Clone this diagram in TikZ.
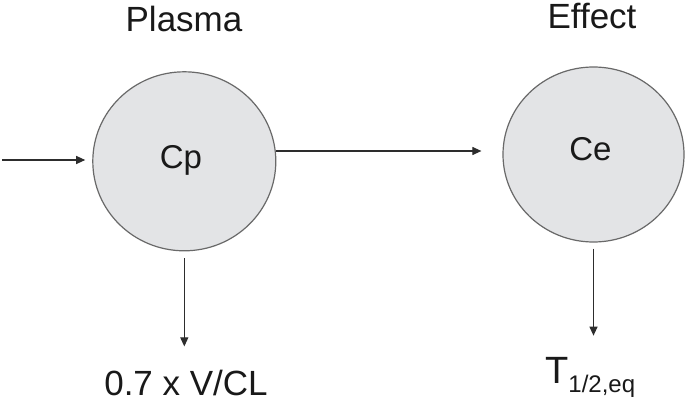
\documentclass[tikz,border=0pt]{standalone}
\usepackage{fontspec}
\setmainfont{Liberation Sans}
\usetikzlibrary{arrows.meta,shapes.geometric}
\definecolor{poolfill}{RGB}{227,228,230}
\definecolor{pooldraw}{RGB}{105,105,105}
\definecolor{ink}{RGB}{25,25,25}
\definecolor{arrowc}{RGB}{45,45,45}
\tikzset{
  pool/.style={ellipse, draw=pooldraw, fill=poolfill, line width=1.2pt, inner sep=0pt},
  txt/.style={inner sep=0pt, text=ink, anchor=base},
  arr/.style={draw=arrowc, line width=1.1pt, -{Triangle[length=9pt,width=8pt]}}
}
\begin{document}
\begin{tikzpicture}[x=1pt,y=-1pt]
\useasboundingbox[fill=white] (0,0) rectangle (688,404);
% pools
\node[pool, minimum width=183pt, minimum height=179pt] (cp) at (184.3,161.3) {};
\node[pool, minimum width=181pt, minimum height=175pt] (ce) at (593.5,154.5) {};
% texts
\node[txt, font=\fontsize{33}{33}\selectfont] (cptext) at (181,168) {Cp};
\node[txt, font=\fontsize{33}{33}\selectfont] (cetext) at (590.5,160) {Ce};
\node[txt, font=\fontsize{35}{35}\selectfont] (plasma) at (184,31.7) {Plasma};
\node[txt, font=\fontsize{35}{35}\selectfont] (effect) at (592,28.3) {Effect};
\node[txt, font=\fontsize{35}{35}\selectfont] (vcl) at (186,395) {0.7 x V/CL};
\node[txt, anchor=base west, font=\fontsize{38}{38}\selectfont] (thalf) at (545,383)
  {T\raisebox{-9pt}{\fontsize{24}{24}\selectfont 1/2,eq}};
% connectors
\coordinate (src) at (2,160);
\draw[arr, shorten >=7pt] (src) -- (cp.west |- src);
\coordinate (mid) at (0,151);
\draw[arr, shorten >=21pt] (cp.east |- mid) -- (ce.west |- mid);
\draw[arr, shorten <=7pt, shorten >=23pt] (cp.south) -- (vcl.north -| cp.south);
\draw[arr, shorten <=6pt, shorten >=21pt] (ce.south) -- (thalf.north -| ce.south);
\end{tikzpicture}
\end{document}
